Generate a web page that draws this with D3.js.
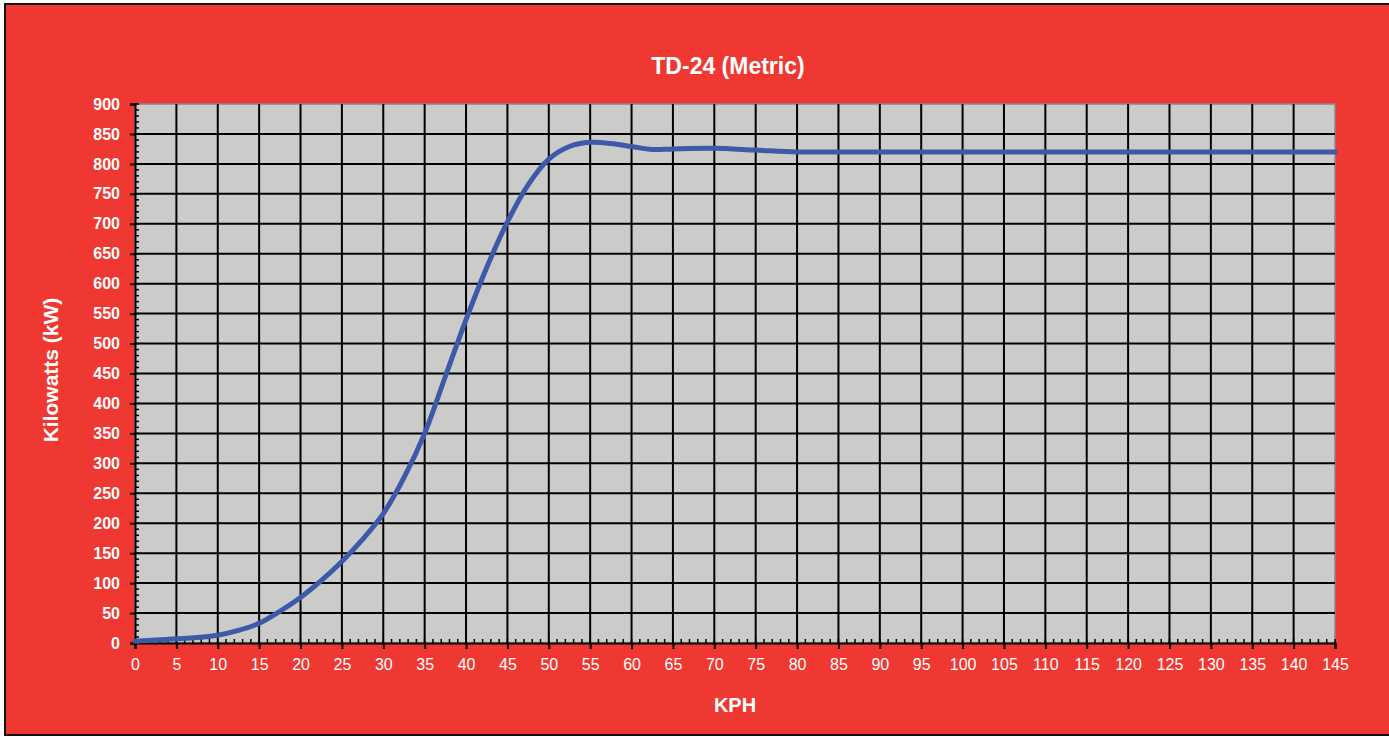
<!DOCTYPE html>
<meta charset="utf-8">
<style>
    body { margin: 0; background: #fff; }
    text { font-family: "Liberation Sans", Arial, sans-serif; fill: #fff; }
</style>
<svg width="1389" height="737"></svg>
<script src="https://cdn.jsdelivr.net/npm/d3@7"></script>
<script>
    // speed (kph) and power (kW)
    var speeds = [0, 2.5, 5, 7.5, 10, 12.5, 15, 17.5, 20, 22.5, 25, 27.5, 30, 32.5, 35, 37.5,
        40, 42.5, 45, 47.5, 50, 52.5, 55, 57.5, 60, 62.5, 65, 70, 75, 80, 85, 90, 95, 100,
        105, 110, 115, 120, 125, 130, 135, 140, 145];
    var power = [3, 5, 7, 9, 13, 21, 33, 53, 76, 104, 136, 173, 216, 276, 350, 445,
        540, 627, 703, 765, 808, 829, 836, 834, 829, 824, 825, 826, 823, 820, 820, 820, 820, 820,
        820, 820, 820, 820, 820, 820, 820, 820, 820];
    var xTicks = d3.range(0, 146, 5);
    var yTicks = d3.range(0, 901, 50);

    var svg = d3.select("svg");
    var plotLeft = 135, plotRight = 1335, plotTop = 104, plotBottom = 643;

    // background panel
    svg.append("rect")
        .attr("x", 5).attr("y", 4)
        .attr("width", 1390).attr("height", 731)
        .attr("fill", "#ee3831")
        .attr("stroke", "#111").attr("stroke-width", 2);

    var x = d3.scaleLinear().domain([0, 145]).range([plotLeft, plotRight]);
    var y = d3.scaleLinear().domain([0, 900]).range([plotBottom, plotTop]);

    svg.append("rect")
        .attr("x", plotLeft).attr("y", plotTop)
        .attr("width", plotRight - plotLeft).attr("height", plotBottom - plotTop)
        .attr("fill", "#cbcbc9")
        .attr("stroke", "#888").attr("stroke-width", 1.5);

    var grid = svg.append("g").attr("stroke", "#000").attr("stroke-width", 2);
    grid.selectAll("line.v")
        .data(xTicks.filter(function (d) { return d > 0 && d < 145; }))
        .enter().append("line")
        .attr("x1", function (d) { return x(d); })
        .attr("x2", function (d) { return x(d); })
        .attr("y1", plotTop).attr("y2", plotBottom);
    grid.selectAll("line.h")
        .data(yTicks.filter(function (d) { return d > 0 && d < 900; }))
        .enter().append("line")
        .attr("x1", plotLeft).attr("x2", plotRight)
        .attr("y1", function (d) { return y(d); })
        .attr("y2", function (d) { return y(d); });

    // minor ticks, inside the plot
    var minor = svg.append("g").attr("stroke", "#000").attr("stroke-width", 1.5);
    minor.selectAll("line.mx")
        .data(d3.range(0, 146, 1))
        .enter().append("line")
        .attr("x1", function (d) { return x(d); })
        .attr("x2", function (d) { return x(d); })
        .attr("y1", plotBottom).attr("y2", plotBottom - 4);
    minor.selectAll("line.my")
        .data(d3.range(0, 901, 10))
        .enter().append("line")
        .attr("x1", plotLeft).attr("x2", plotLeft + 4)
        .attr("y1", function (d) { return y(d); })
        .attr("y2", function (d) { return y(d); });

    var xAxis = svg.append("g")
        .attr("transform", "translate(0," + plotBottom + ")")
        .call(d3.axisBottom(x).tickValues(xTicks).tickSize(6).tickPadding(10));
    var yAxis = svg.append("g")
        .attr("transform", "translate(" + plotLeft + ",0)")
        .call(d3.axisLeft(y).tickValues(yTicks).tickSize(5).tickPadding(10));

    [xAxis, yAxis].forEach(function (a) {
        a.select(".domain").attr("stroke", "#000").attr("stroke-width", 2);
        a.selectAll(".tick line").attr("stroke", "#000").attr("stroke-width", 2);
        a.selectAll(".tick text").attr("fill", "#fff").style("font-size", "16px")
            .style("font-family", "'Liberation Sans', Arial, sans-serif");
    });
    yAxis.selectAll(".tick text").style("font-weight", "bold");

    var line = d3.line()
        .x(function (d, i) { return x(speeds[i]); })
        .y(function (d) { return y(d); })
        .curve(d3.curveCatmullRom.alpha(0.5));

    svg.append("path")
        .datum(power)
        .attr("d", line)
        .attr("fill", "none")
        .attr("stroke", "#3c5aa8")
        .attr("stroke-width", 5)
        .attr("stroke-linecap", "round");

    svg.append("text")
        .attr("x", 728).attr("y", 74)
        .attr("text-anchor", "middle")
        .style("font-size", "23px").style("font-weight", "bold")
        .text("TD-24 (Metric)");

    svg.append("text")
        .attr("x", 735).attr("y", 712)
        .attr("text-anchor", "middle")
        .style("font-size", "20px").style("font-weight", "bold")
        .text("KPH");

    svg.append("text")
        .attr("transform", "translate(58,370) rotate(-90)")
        .attr("text-anchor", "middle")
        .style("font-size", "21px").style("font-weight", "bold")
        .text("Kilowatts (kW)");
</script>
